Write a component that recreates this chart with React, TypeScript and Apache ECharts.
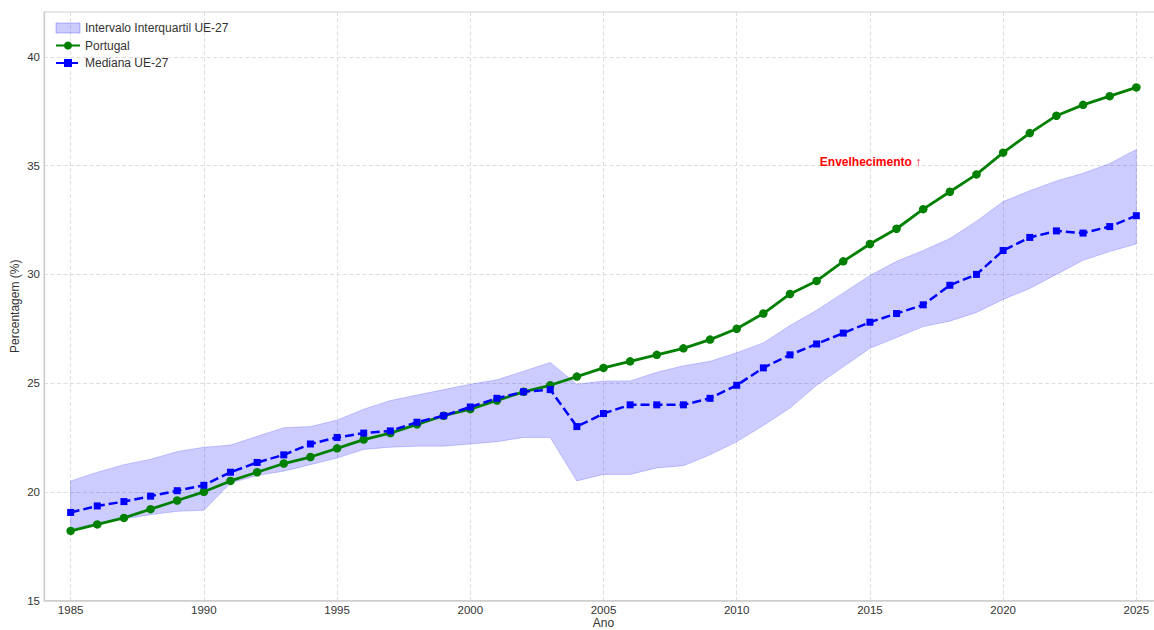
import React, { useEffect, useRef } from "react";
import * as echarts from "echarts";

const years = [
  1985, 1986, 1987, 1988, 1989, 1990, 1991, 1992, 1993, 1994, 1995, 1996, 1997, 1998,
  1999, 2000, 2001, 2002, 2003, 2004, 2005, 2006, 2007, 2008, 2009, 2010, 2011, 2012,
  2013, 2014, 2015, 2016, 2017, 2018, 2019, 2020, 2021, 2022, 2023, 2024, 2025,
];

const portugal = [
  18.2, 18.5, 18.8, 19.2, 19.6, 20.0, 20.5, 20.9, 21.3, 21.6, 22.0, 22.4, 22.7, 23.1,
  23.5, 23.8, 24.2, 24.6, 24.9, 25.3, 25.7, 26.0, 26.3, 26.6, 27.0, 27.5, 28.2, 29.1,
  29.7, 30.6, 31.4, 32.1, 33.0, 33.8, 34.6, 35.6, 36.5, 37.3, 37.8, 38.2, 38.6,
];

const medianaUE = [
  19.05, 19.35, 19.55, 19.8, 20.05, 20.3, 20.9, 21.35, 21.7, 22.2, 22.5, 22.7, 22.8, 23.2,
  23.5, 23.9, 24.3, 24.6, 24.7, 23.0, 23.6, 24.0, 24.0, 24.0, 24.3, 24.9, 25.7, 26.3,
  26.8, 27.3, 27.8, 28.2, 28.6, 29.5, 30.0, 31.1, 31.7, 32.0, 31.9, 32.2, 32.7,
];

const q1UE = [
  18.3, 18.55, 18.75, 18.95, 19.1, 19.15, 20.4, 20.75, 20.95, 21.25, 21.55, 21.95, 22.05, 22.1,
  22.1, 22.2, 22.3, 22.5, 22.5, 20.5, 20.8, 20.8, 21.1, 21.2, 21.7, 22.3, 23.05, 23.85,
  24.9, 25.75, 26.6, 27.1, 27.6, 27.85, 28.25, 28.85, 29.35, 30.0, 30.65, 31.05, 31.4,
];

const q3UE = [
  20.5, 20.9, 21.25, 21.5, 21.85, 22.05, 22.15, 22.55, 22.95, 23.0, 23.3, 23.8, 24.2, 24.45,
  24.7, 24.95, 25.15, 25.55, 25.95, 24.95, 25.1, 25.1, 25.5, 25.8, 26.0, 26.4, 26.85, 27.65,
  28.35, 29.15, 29.95, 30.6, 31.1, 31.65, 32.45, 33.35, 33.85, 34.3, 34.65, 35.1, 35.75,
];

const xTicks = [1985, 1990, 1995, 2000, 2005, 2010, 2015, 2020, 2025];
const yTicks = [15, 20, 25, 30, 35, 40];

const annotationText = "Envelhecimento ↑";
const annotationAt = [2013.1, 35.17];

const nameBand = "Intervalo Interquartil UE-27";
const namePT = "Portugal";
const nameMed = "Mediana UE-27";

export default function App() {
  const ref = useRef<HTMLDivElement>(null);

  useEffect(() => {
    const chart = echarts.init(ref.current!, null, { renderer: "svg" });
    const font = "'Liberation Sans', Arial, sans-serif";
    const textColor = "#333333";
    const gridLine = { show: true, lineStyle: { color: "#d6d6d6", type: [4, 2.5], width: 0.8 } };

    const bandData = years.map((y, i) => [y, q1UE[i], q3UE[i]]);

    chart.setOption({
      animation: false,
      textStyle: { fontFamily: font },
      grid: {
        left: 44,
        right: -9,
        top: 12,
        bottom: 29.5,
        outerBoundsMode: "none",
        containLabel: false,
        show: true,
        borderColor: "#d0d0d0",
        borderWidth: 1,
        backgroundColor: "#fff",
      },
      legend: {
        orient: "vertical",
        left: 50,
        top: 17,
        itemWidth: 24,
        itemHeight: 10,
        itemGap: 5.5,
        textStyle: { fontFamily: font, fontSize: 12, color: textColor, lineHeight: 12 },
        data: [
          { name: nameBand, icon: "rect", itemStyle: { color: "rgba(0,0,255,0.2)", borderColor: "rgba(0,0,255,0.25)", borderWidth: 1 } },
          { name: namePT },
          { name: nameMed },
        ],
      },
      xAxis: {
        type: "value",
        min: 1984,
        max: 2026,
        name: "Ano",
        nameLocation: "middle",
        nameGap: 16,
        nameMoveOverlap: false,
        nameTextStyle: { fontFamily: font, fontSize: 12, color: textColor },
        axisLine: { show: true, lineStyle: { color: "#cccccc", width: 1.5 } },
        axisTick: { show: false, customValues: xTicks },
        axisLabel: {
          customValues: xTicks,
          formatter: (v: number) => String(v),
          fontFamily: font,
          fontSize: 11.5,
          color: textColor,
          margin: 3,
        },
        splitLine: gridLine,
      },
      yAxis: {
        type: "value",
        min: 15,
        max: 42.07,
        name: "Percentagem (%)",
        nameLocation: "middle",
        nameGap: 23,
        nameMoveOverlap: false,
        nameTextStyle: { fontFamily: font, fontSize: 12, color: textColor },
        axisLine: { show: true, lineStyle: { color: "#cccccc", width: 1.2 } },
        axisTick: { show: false, customValues: yTicks },
        axisLabel: {
          customValues: yTicks,
          formatter: (v: number) => String(v),
          fontFamily: font,
          fontSize: 11.5,
          color: textColor,
          margin: 4,
        },
        splitLine: gridLine,
      },
      series: [
        {
          name: nameBand,
          type: "custom",
          data: bandData,
          encode: { x: 0, y: [1, 2] },
          itemStyle: { color: "rgba(0,0,255,0.2)" },
          z: 1,
          renderItem: (params: any, api: any) => {
            if (params.dataIndex !== 0) return null;
            const upper = years.map((y, i) => api.coord([y, q3UE[i]]));
            const lower = years.map((y, i) => api.coord([y, q1UE[i]])).reverse();
            return {
              type: "polygon",
              shape: { points: upper.concat(lower) },
              style: {
                fill: "rgba(0,0,255,0.2)",
                stroke: "rgba(0,0,255,0.18)",
                lineWidth: 1,
              },
            };
          },
        },
        {
          name: namePT,
          type: "line",
          data: years.map((y, i) => [y, portugal[i]]),
          symbol: "circle",
          symbolSize: 8.5,
          showAllSymbol: true,
          itemStyle: { color: "#008000" },
          lineStyle: { color: "#008000", width: 2.8 },
          z: 3,
          markPoint: {
            symbol: "circle",
            symbolSize: 1,
            itemStyle: { color: "rgba(0,0,0,0)" },
            label: {
              show: true,
              position: "right",
              distance: 0,
              formatter: annotationText,
              color: "#ff0000",
              fontWeight: "bold",
              fontSize: 12,
              fontFamily: font,
            },
            data: [{ coord: annotationAt }],
          },
        },
        {
          name: nameMed,
          type: "line",
          data: years.map((y, i) => [y, medianaUE[i]]),
          symbol: "rect",
          symbolSize: 7,
          showAllSymbol: true,
          itemStyle: { color: "#0000ff" },
          lineStyle: { color: "#0000ff", width: 2.5, type: [9, 4] },
          z: 4,
        },
      ],
    });

    return () => chart.dispose();
  }, []);

  return (
    <div
      ref={ref}
      style={{ position: "fixed", left: 0, top: 0, width: 1154, height: 630, background: "#fff" }}
    />
  );
}
